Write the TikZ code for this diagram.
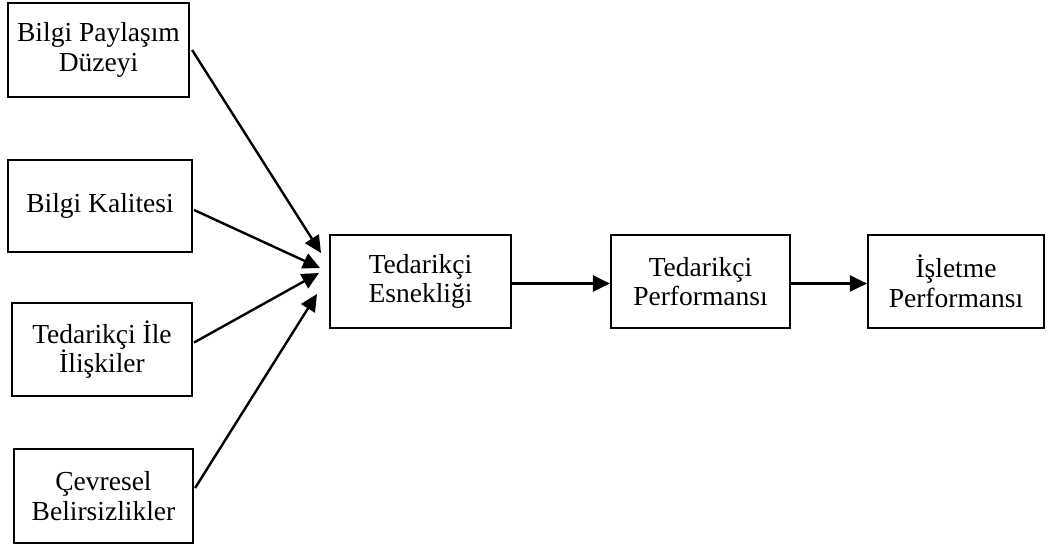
\documentclass[tikz,border=0pt]{standalone}
\usepackage{fontspec}
\setmainfont{Liberation Serif}
\usetikzlibrary{arrows.meta}
\tikzset{
  box/.style={draw, line width=2.2pt, rectangle, align=center, inner sep=2pt,
    font=\fontsize{27.5}{29.5}\selectfont},
  conn/.style={line width=2.4pt, -{Triangle[length=17pt,width=16pt]}}
}
\begin{document}
\begin{tikzpicture}[x=1pt,y=-1pt]
\useasboundingbox (0,0) rectangle (1047,547);
\node[box, minimum width=181pt, minimum height=94pt] (b1) at (98.5,50) {Bilgi Paylaşım\\Düzeyi};
\node[box, minimum width=184pt, minimum height=92pt] (b2) at (100,206) {Bilgi Kalitesi};
\node[box, minimum width=180pt, minimum height=93pt] (b3) at (102,349.5) {Tedarikçi İle\\İlişkiler};
\node[box, minimum width=179pt, minimum height=94pt] (b4) at (103.5,496) {Çevresel\\Belirsizlikler};
\node[box, minimum width=181pt, minimum height=93pt] (c) at (420.5,281.5) {Tedarikçi\\Esnekliği};
\node[box, minimum width=179pt, minimum height=93pt] (d) at (700.5,281.5) {Tedarikçi\\Performansı};
\node[box, minimum width=176pt, minimum height=93pt] (e) at (956,281.5) {İşletme\\Performansı};
\coordinate (t1) at (321,253);
\coordinate (t2) at (320,268);
\coordinate (t3) at (319,273);
\coordinate (t4) at (317,294);
\draw[conn] ([xshift=2pt]b1.east) -- (t1);
\draw[conn] ([xshift=1pt,yshift=-4pt]b2.east) -- (t2);
\draw[conn] ([xshift=1pt,yshift=7pt]b3.east) -- (t3);
\draw[conn] ([xshift=1pt,yshift=8pt]b4.east) -- (t4);
\draw[conn] ([yshift=-2pt]c.east) -- ([yshift=-2pt]d.west);
\draw[conn] ([yshift=-2pt]d.east) -- ([yshift=-2pt]e.west);
\end{tikzpicture}
\end{document}
